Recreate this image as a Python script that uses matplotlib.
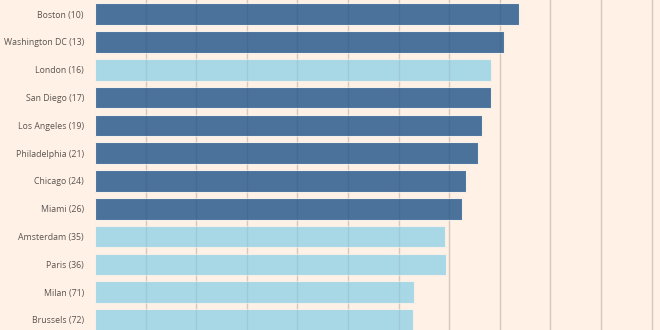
import matplotlib
matplotlib.use("Agg")
import matplotlib.pyplot as plt

# City (rank) and index value
cities = ["Boston (10)", "Washington DC (13)", "London (16)", "San Diego (17)",
          "Los Angeles (19)", "Philadelphia (21)", "Chicago (24)", "Miami (26)",
          "Amsterdam (35)", "Paris (36)", "Milan (71)", "Brussels (72)"]
values = [8.37, 8.09, 7.83, 7.82, 7.64, 7.56, 7.33, 7.26, 6.92, 6.93, 6.30, 6.28]
is_us = [True, True, False, True, True, True, True, True, False, False, False, False]

US_COLOR = "#4a729b"
EU_COLOR = "#a8d7e6"
BG = "#fff1e5"

fig = plt.figure(figsize=(6.6, 3.3), dpi=100, facecolor=BG)
ax = fig.add_axes([95 / 660, 0, 1 - 95 / 660, 1])
ax.set_facecolor(BG)

ypos = list(range(len(cities)))
colors = [US_COLOR if u else EU_COLOR for u in is_us]
ax.barh(ypos, values, height=0.78, color=colors, edgecolor="#f6f0ea",
        linewidth=0.8, zorder=2)

ax.set_xlim(0, (660 - 95) / 50.6)
ax.set_ylim(11.36, -0.51)

for gx in range(1, 12):
    ax.axvline(gx, color="#e2d5cb", linewidth=1, zorder=1)
    ax.axvline(gx, color="black", alpha=0.06, linewidth=1, zorder=3)

ax.set_yticks(ypos)
ax.set_yticklabels(cities, fontsize=6.3, color="#5a5450", family="Open Sans")
ax.tick_params(axis="y", length=0, pad=8)
ax.set_xticks([])
for s in ax.spines.values():
    s.set_visible(False)

fig.savefig("out.png", dpi=100, facecolor=BG)
